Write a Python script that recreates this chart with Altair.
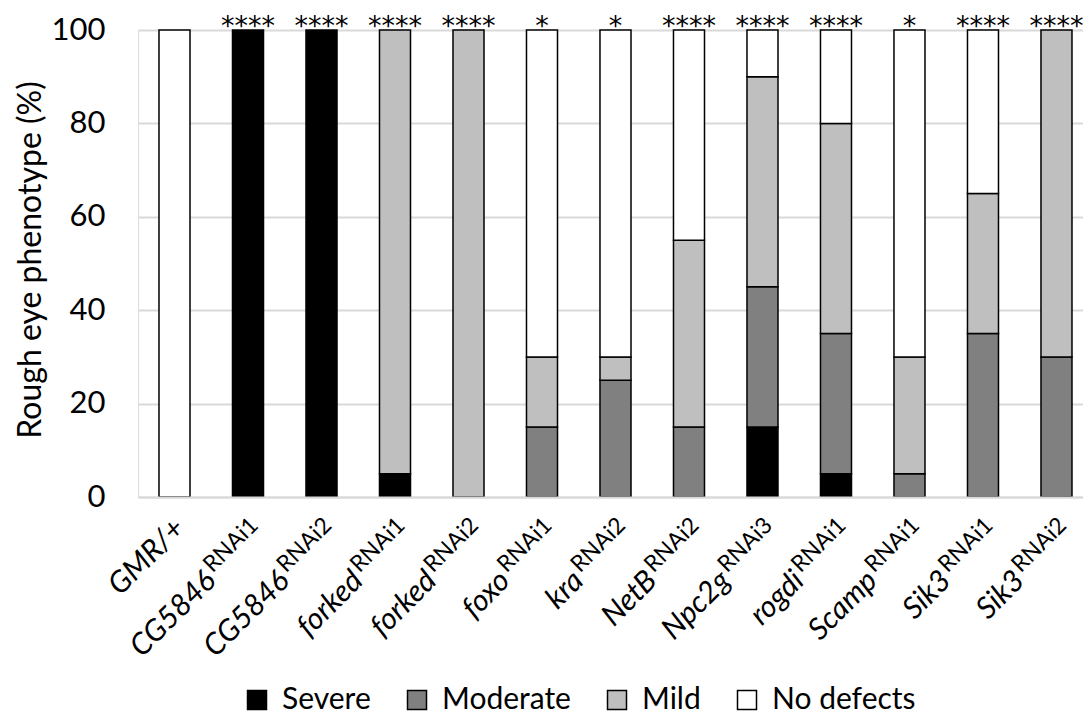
import altair as alt
import pandas as pd

genes = ["GMR/+", "CG5846", "CG5846", "forked", "forked", "foxo", "kra",
         "NetB", "Npc2g", "rogdi", "Scamp", "Sik3", "Sik3"]
sups = ["", "RNAi1", "RNAi2", "RNAi1", "RNAi2", "RNAi1", "RNAi2",
        "RNAi2", "RNAi3", "RNAi1", "RNAi1", "RNAi1", "RNAi2"]
severe = [0, 100, 100, 5, 0, 0, 0, 0, 15, 5, 0, 0, 0]
moderate = [0, 0, 0, 0, 0, 15, 25, 15, 30, 30, 5, 35, 30]
mild = [0, 0, 0, 95, 100, 15, 5, 40, 45, 45, 25, 30, 70]
no_defects = [100, 0, 0, 0, 0, 70, 70, 45, 10, 20, 70, 35, 0]
signif = ["", "****", "****", "****", "****", "*", "*", "****", "****",
          "****", "*", "****", "****"]

cats = ["Severe", "Moderate", "Mild", "No defects"]
cat_colors = ["#000000", "#808080", "#bfbfbf", "#ffffff"]

keys = [g + s for g, s in zip(genes, sups)]

rows = []
for i, k in enumerate(keys):
    for j, (c, vals) in enumerate(zip(cats, [severe, moderate, mild, no_defects])):
        if vals[i] > 0:
            rows.append({"key": k, "cat": c, "value": vals[i], "ord": j})
df = pd.DataFrame(rows)

lab = pd.DataFrame({"key": keys, "gene": genes, "sup": sups, "sig": signif})

W, H = 945, 467
FONT = "Lato"

xenc = alt.X("key:N", sort=keys,
             scale=alt.Scale(paddingInner=0.578, paddingOuter=0.2177, align=0.656),
             axis=alt.Axis(labels=False, ticks=False, title=None,
                           domainColor="#d9d9d9", domainWidth=2, zindex=1))

bars = alt.Chart(df).mark_bar(stroke="black", strokeWidth=1.5).encode(
    x=xenc,
    y=alt.Y("value:Q", stack="zero",
            scale=alt.Scale(domain=[0, 100], nice=False),
            axis=alt.Axis(values=[0, 20, 40, 60, 80, 100], ticks=False, domain=False,
                          labelFont=FONT, labelFontSize=31, labelColor="black",
                          labelPadding=33, gridColor="#d9d9d9", gridWidth=2,
                          title="Rough eye phenotype (%)", titleFont=FONT,
                          titleFontSize=32, titleFontWeight="normal",
                          titleColor="black", titleX=-98, titleY=H / 2 - 4,
                          titleAngle=270, titleBaseline="alphabetic",
                          titleAlign="center")),
    color=alt.Color("cat:N", scale=alt.Scale(domain=cats, range=cat_colors),
                    legend=alt.Legend(title=None, orient="none", legendX=104,
                                      legendY=655, direction="horizontal",
                                      symbolType="square", symbolSize=361,
                                      symbolStrokeColor="black",
                                      symbolStrokeWidth=1.5, symbolOpacity=1,
                                      labelFont=FONT, labelFontSize=30,
                                      labelColor="black", labelOffset=10,
                                      columnPadding=31, padding=0)),
    order=alt.Order("ord:Q"),
)

x_plain = alt.X("key:N", sort=keys)

stars = alt.Chart(lab).mark_text(font="DejaVu Sans", fontSize=27,
                                 baseline="alphabetic", align="center",
                                 color="black").encode(
    x=x_plain, y=alt.value(5), text="sig:N")

sup_layer = alt.Chart(lab).transform_filter("datum.sup != ''").mark_text(
    font=FONT, fontSize=23, align="right", baseline="alphabetic", angle=315,
    dx=-13, dy=29, color="black").encode(x=x_plain, y=alt.value(H), text="sup:N")

gene_layer = alt.Chart(lab).transform_filter("datum.sup != ''").mark_text(
    font=FONT, fontSize=30, fontStyle="italic", align="right",
    baseline="alphabetic", angle=315, dx=-82, dy=39, color="black").encode(
    x=x_plain, y=alt.value(H), text="gene:N")

gmr_layer = alt.Chart(lab).transform_filter("datum.sup == ''").mark_text(
    font=FONT, fontSize=30, fontStyle="italic", align="right",
    baseline="alphabetic", angle=315, dx=-15, dy=32, color="black").encode(
    x=x_plain, y=alt.value(H), text="gene:N")

chart = alt.layer(bars, stars, sup_layer, gene_layer, gmr_layer).properties(
    width=W, height=H,
    padding={"left": 130, "top": 22, "right": 0, "bottom": 217},
    autosize=alt.AutoSizeParams(type="none"),
).configure_view(stroke=None).configure(background="white")

chart.save("out.html", embed_options={"renderer": "svg", "actions": False})
